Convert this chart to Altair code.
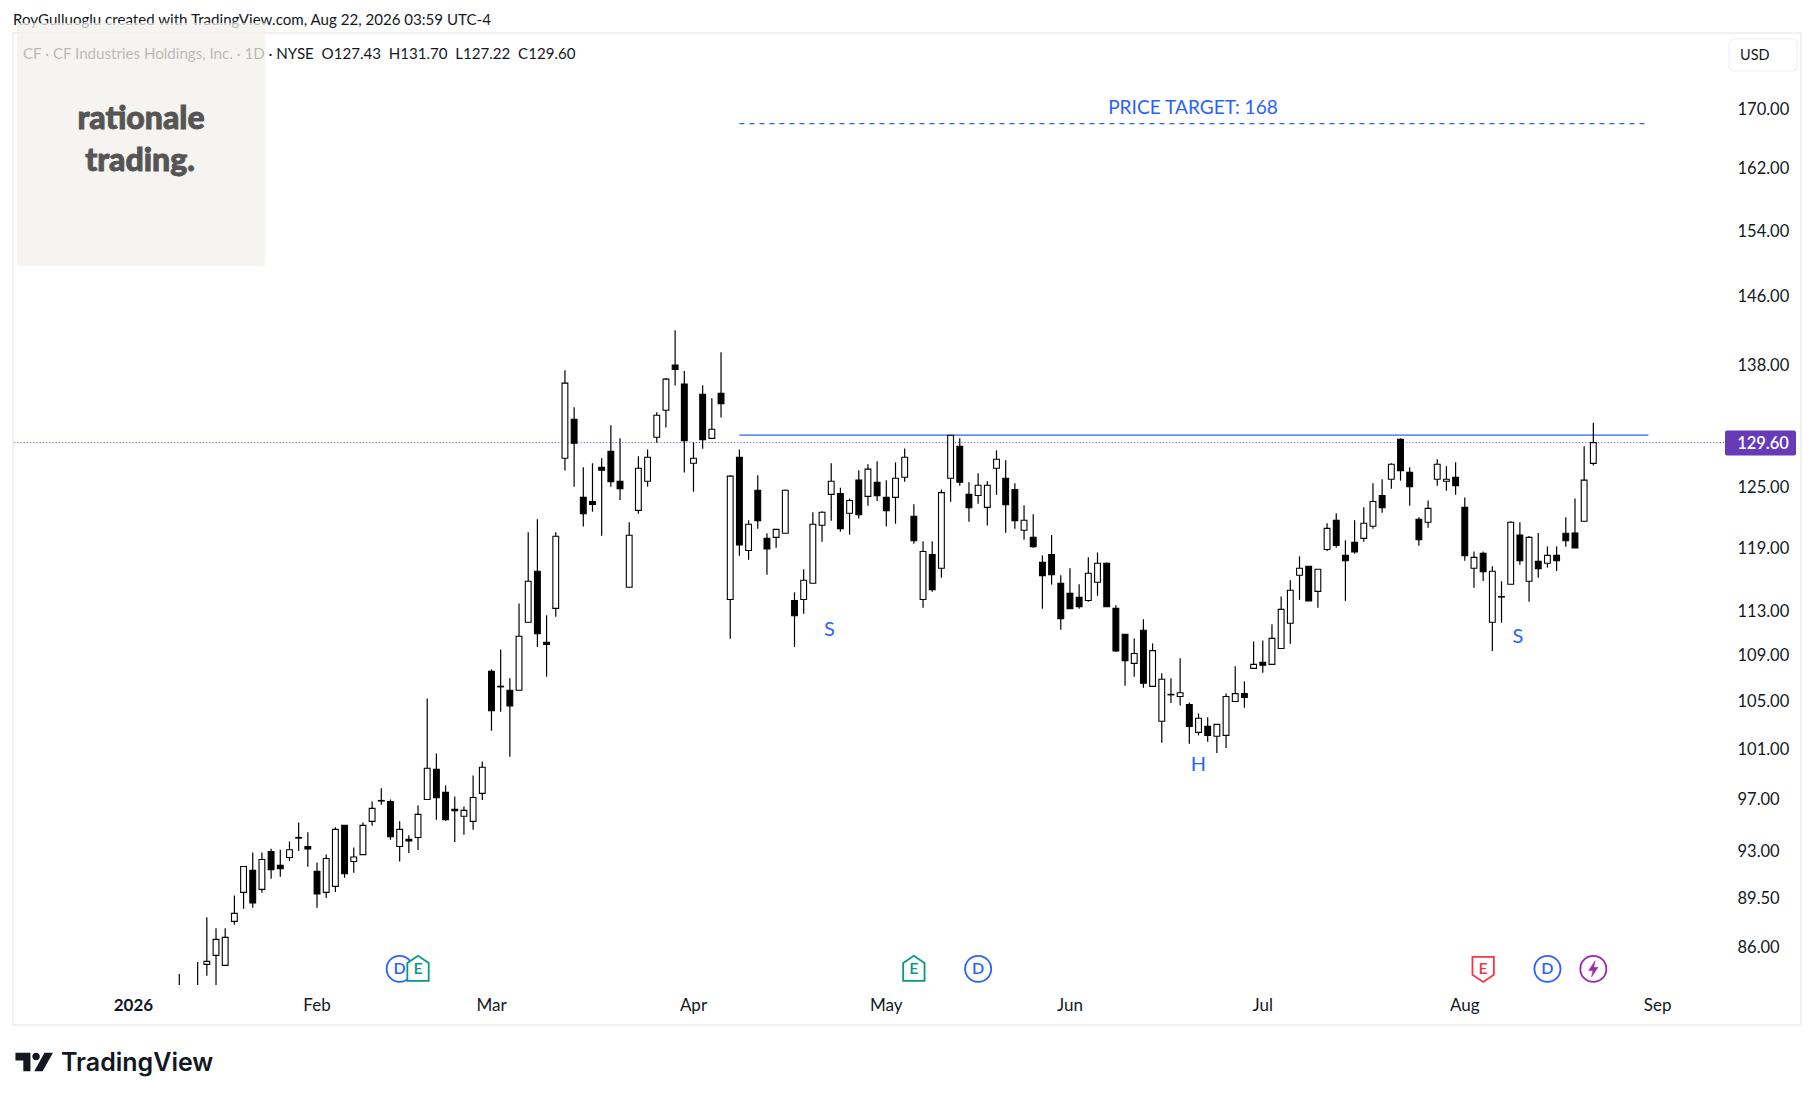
import json
import altair as alt
import pandas as pd

# Daily candles; the bar number counts trading days from the first session of 2026
first_bar = 5
highs = [84.12,83.2,84.94,88.09,87.30,87.30,89.67,91.81,92.85,92.85,
93.15,93.07,93.69,95.16,94.39,92.11,92.70,94.78,94.93,93.23,
95.16,96.79,97.83,96.95,95.24,94.16,96.48,105.25,100.64,98.07,
97.19,96.40,98.85,99.99,107.78,109.52,106.99,113.71,120.49,121.77,
112.62,120.49,137.47,133.38,127.03,127.44,127.96,131.45,130.05,121.47,
128.16,128.88,132.84,136.58,141.99,137.36,129.63,135.80,134.35,139.47,
126.21,128.88,121.67,126.21,120.39,120.77,124.74,114.74,116.91,122.46,
122.56,127.44,124.93,123.84,126.72,127.34,127.65,125.70,127.54,128.99,
123.25,119.60,119.60,124.74,130.37,130.05,125.49,126.41,125.59,128.78,
127.75,125.39,123.15,122.26,118.24,120.22,116.35,117.01,115.50,118.05,
118.52,117.57,113.53,110.89,110.52,112.25,110.07,107.43,106.99,108.74,
104.91,103.98,103.65,103.06,105.67,108.04,106.73,110.25,110.34,111.80,
114.36,115.87,118.14,117.20,116.91,121.37,122.36,119.70,121.67,122.95,
125.39,125.80,127.44,130.05,127.03,121.97,123.64,127.85,127.13,127.54,
123.95,118.62,118.62,117.20,115.78,121.57,121.47,120.12,120.42,119.10,
119.10,121.97,123.84,129.21,131.70]
opens = [83.0,83.0,82.5,84.78,85.40,84.71,87.80,89.89,91.52,90.11,
92.92,91.89,92.48,93.95,93.31,91.44,89.89,90.33,94.93,92.18,
92.70,95.24,96.83,96.79,93.31,93.85,94.00,96.95,99.36,97.51,
96.17,95.63,95.24,97.43,107.60,106.25,105.95,105.95,111.98,116.73,
110.16,113.25,127.96,132.09,123.95,123.54,127.03,128.68,125.59,115.21,
122.65,125.59,130.16,133.06,138.03,135.91,127.44,134.80,130.05,134.91,
114.08,128.06,118.71,124.67,119.89,119.99,120.39,113.98,114.08,115.59,
121.18,124.26,124.33,122.36,125.70,124.05,125.49,123.95,123.95,126.00,
122.06,114.08,118.33,117.01,125.90,129.21,124.26,124.15,122.95,126.93,
125.90,124.74,120.68,119.99,117.57,118.33,115.59,114.64,114.27,113.98,
115.68,117.48,113.25,110.89,108.30,111.25,106.29,103.32,105.56,105.42,
104.74,102.39,102.89,102.06,102.14,104.99,105.67,107.86,108.39,108.21,
109.61,111.89,116.35,117.20,114.83,118.81,121.67,118.24,119.50,119.89,
121.08,124.15,125.80,129.94,126.52,121.77,121.47,125.80,125.59,126.00,
122.95,117.01,118.43,111.98,114.30,115.50,120.22,115.78,117.67,117.48,
118.24,120.39,120.42,121.57,127.43]
closes = [82.6,82.5,83.2,84.99,86.52,86.66,88.37,91.81,89.13,92.33,
91.56,91.64,93.07,94.00,93.12,89.78,92.41,94.62,91.27,92.52,
94.93,96.25,96.87,94.05,94.62,93.74,95.78,99.44,97.08,95.37,
96.06,96.09,97.11,99.52,104.20,106.30,104.62,110.71,115.78,110.94,
109.98,120.09,136.02,129.53,122.32,123.25,126.72,125.55,124.83,120.19,
126.93,128.06,132.52,136.47,137.54,129.81,127.96,129.91,131.02,133.76,
126.11,119.26,121.27,121.63,118.87,120.77,124.67,112.58,115.87,121.27,
122.46,125.59,120.84,123.64,122.22,126.83,124.11,122.61,125.90,128.06,
119.66,118.62,114.98,124.43,130.37,125.49,122.91,125.18,125.18,127.85,
123.21,121.63,121.67,119.07,116.31,116.40,112.31,113.22,113.40,116.53,
117.48,113.40,109.40,108.53,109.17,106.56,109.43,106.91,105.60,105.74,
102.89,103.57,102.14,103.06,105.42,105.67,105.34,108.21,108.13,110.52,
113.16,114.93,117.01,113.95,116.91,120.87,119.21,117.73,118.58,121.37,
123.54,122.91,127.34,126.68,125.04,119.76,122.85,127.34,125.80,125.14,
118.20,118.05,116.69,116.73,114.34,121.47,117.73,119.99,116.97,118.24,
117.73,119.66,118.97,125.70,129.60]
lows = [82.0,81.8,81.5,84.00,82.5,84.71,87.56,88.70,88.77,89.86,
90.90,91.04,92.23,92.97,91.79,88.77,89.49,89.93,90.97,91.34,
92.70,94.90,96.53,93.82,92.18,92.82,93.04,96.95,95.37,95.29,
93.66,94.21,94.59,96.91,102.53,104.12,100.37,105.95,111.98,109.76,
107.13,112.49,126.68,125.04,121.04,122.52,120.15,125.04,123.70,115.21,
122.32,125.04,129.59,131.20,135.75,126.48,124.52,128.95,130.05,132.27,
110.49,118.20,117.82,120.84,116.40,118.97,120.39,109.76,112.76,115.59,
119.56,121.63,120.54,120.25,121.83,123.11,123.60,121.04,121.33,125.55,
119.36,113.31,114.79,116.12,123.50,125.14,121.53,123.31,121.14,124.21,
120.45,120.84,119.76,118.97,113.22,115.46,111.31,113.22,113.22,113.86,
114.42,113.40,109.31,106.35,107.13,106.17,106.29,101.52,104.87,104.66,
101.44,102.14,101.61,100.69,101.10,104.99,104.46,107.86,107.48,108.21,
109.61,110.03,114.04,113.95,113.31,118.67,118.97,113.95,118.39,119.56,
120.84,122.42,124.83,125.65,123.11,119.17,120.94,125.14,124.62,124.21,
117.73,115.17,115.81,109.40,111.94,115.50,117.35,113.86,116.12,117.07,
116.75,119.07,118.97,121.57,127.22]

price_ticks = [170, 162, 154, 146, 138, 125, 119, 113, 109, 105, 101, 97, 93, 89.5, 86]
month_bars = [0, 20, 39, 61, 82, 102, 123, 145, 166]
month_labels = ["2026", "Feb", "Mar", "Apr", "May", "Jun", "Jul", "Aug", "Sep"]
last_price = 129.60
neck_level = 130.4
target_level = 168
level_start_bar = 66
level_end_bar = 165
pattern_labels = ["S", "H", "S"]
pattern_bars = [75.8, 116.0, 150.8]
pattern_prices = [111.25, 99.7, 110.65]
event_bars = {"dividend": [29, 92, 154], "earn_up": [31, 85], "earn_down": [147], "split": [159]}
event_price = 84.47

BLUE = "#2962ff"
INK = "#131722"
FONT = "Lato"
X0, Y0 = 13, 33                 # plot origin on the page
W, H = 1711, 952

df = pd.DataFrame({"high": highs, "low": lows, "open": opens, "close": closes})
df["bar"] = range(first_bar, first_bar + len(df))
df["dir"] = ["up" if c >= o else "down" for o, c in zip(opens, closes)]

x_scale = alt.Scale(domain=[-13.11, 173.23], nice=False, zero=False, padding=0)
y_scale = alt.Scale(type="log", domain=[83.37, 180.84], nice=False, zero=False)
label_expr = f"{json.dumps(month_labels)}[indexof({json.dumps(month_bars)}, datum.value)]"
x_axis = alt.Axis(title=None, values=month_bars, labelExpr=label_expr, grid=False, domain=False, ticks=False,
                  labelFont=FONT, labelFontSize=17, labelColor=INK, labelPadding=12, labelFlush=False,
                  labelOverlap=False, labelBound=False, zindex=1, labelOffset=-0.5,
                  labelFontWeight={"condition": {"test": "datum.value == 0", "value": "bold"}, "value": "normal"})
y_axis = alt.Axis(title=None, orient="right", values=price_ticks, format=".2f", grid=False, domain=False, ticks=False,
                  labelFont=FONT, labelFontSize=16.5, labelColor=INK, labelPadding=13, labelAlign="left",
                  labelOverlap=False, labelBound=False, zindex=1, labelOffset=0.5)


def X(field="bar"):
    return alt.X(f"{field}:Q", scale=x_scale, axis=x_axis)


def Y(field):
    return alt.Y(f"{field}:Q", scale=y_scale, axis=y_axis)


def page_text(text, x, y, size=15.1, color=INK, align="left", weight="normal", font=FONT, **kw):
    return alt.Chart(pd.DataFrame({"t": [text]})).mark_text(
        align=align, baseline="alphabetic", fontSize=size, color=color, fontWeight=weight, font=font, **kw
    ).encode(text="t:N", x=alt.value(x - X0), y=alt.value(y - Y0))


def page_rect(x1, y1, x2, y2, **kw):
    return alt.Chart(pd.DataFrame({"a": [0]})).mark_rect(**kw).encode(
        x=alt.value(x1 - X0), x2=alt.value(x2 - X0), y=alt.value(y1 - Y0), y2=alt.value(y2 - Y0))


frame = page_rect(13, 33, 1801, 1025, fill="#ffffff", fillOpacity=0, stroke="#f0f0f0", strokeWidth=2)
credit = page_text("RoyGulluoglu created with TradingView.com, Aug 22, 2026 03:59 UTC-4", 13, 25)
legend_text = ("CF \u00b7 CF Industries Holdings, Inc. \u00b7 1D \u00b7 NYSE\u00a0\u00a0O127.43\u00a0\u00a0"
               "H131.70\u00a0\u00a0L127.22\u00a0\u00a0C129.60")
title = page_text(legend_text, 23, 58.5)
veil = page_rect(17, 23, 265, 266, fill="#f1f0eb", opacity=0.74)
brand1 = page_text("rationale", 141, 129, size=32, color="#555555", align="center", weight=900,
                   stroke="#555555", strokeWidth=0.9)
brand2 = page_text("trading.", 140, 171, size=32, color="#555555", align="center", weight=900,
                   stroke="#555555", strokeWidth=0.9)

wicks = alt.Chart(df).mark_rule(color="#000000", strokeWidth=1.2, clip=True).encode(
    x=X(), y=Y("high"), y2="low:Q")
bodies = alt.Chart(df).mark_bar(size=5.8, stroke="#000000", strokeWidth=1.1, clip=True).encode(
    x=X(), y=Y("open"), y2="close:Q",
    fill=alt.Fill("dir:N", scale=alt.Scale(domain=["up", "down"], range=["#ffffff", "#000000"]), legend=None))

last_line = alt.Chart(pd.DataFrame({"p": [last_price]})).mark_rule(
    color="#673ab7", strokeWidth=1, strokeDash=[1, 2.2]).encode(y=Y("p"))
levels = pd.DataFrame({"a": [level_start_bar], "b": [level_end_bar]})
neck = alt.Chart(levels.assign(p=neck_level)).mark_rule(color=BLUE, strokeWidth=1.2).encode(
    x=X("a"), x2="b:Q", y=Y("p"))
target = alt.Chart(levels.assign(p=target_level)).mark_rule(color=BLUE, strokeWidth=1.2, strokeDash=[5, 5]).encode(
    x=X("a"), x2="b:Q", y=Y("p"))
target_txt = alt.Chart(pd.DataFrame({"bar": [115.4], "p": [170.15], "t": ["PRICE TARGET: 168"]})).mark_text(
    fontSize=19.1, color=BLUE, font=FONT, baseline="middle").encode(x=X(), y=Y("p"), text="t:N")
pattern = alt.Chart(pd.DataFrame({"bar": pattern_bars, "p": pattern_prices, "t": pattern_labels})).mark_text(
    fontSize=20, color=BLUE, font=FONT, baseline="middle").encode(x=X(), y=Y("p"), text="t:N")

price_box = page_rect(1725, 430.5, 1796, 455.5, fill="#673ab7", cornerRadius=2)
price_lab = alt.Chart(pd.DataFrame({"p": [last_price], "t": [f"{last_price:.2f}"]})).mark_text(
    fontSize=16.5, color="#ffffff", font=FONT, fontWeight=600, baseline="middle", align="center", dy=1).encode(
    x=alt.value(1763 - X0), y=Y("p"), text="t:N")
usd_box = page_rect(1729, 39, 1797, 71, fill="#ffffff", stroke="#f0f0f0", strokeWidth=1.2, cornerRadius=5)
usd = page_text("USD", 1740, 59.5, size=14.5)


def events(bars, shape, stroke, letter=None):
    d = pd.DataFrame({"bar": bars, "p": [event_price] * len(bars), "t": [letter or ""] * len(bars)})
    sym = alt.Chart(d).mark_point(shape=shape, size=680, fill="#ffffff", fillOpacity=1,
                                  stroke=stroke, strokeWidth=1.8).encode(x=X(), y=Y("p"))
    if letter is None:
        return sym
    return sym + alt.Chart(d).mark_text(fontSize=16, color=stroke, font=FONT, fontWeight=600,
                                        baseline="middle").encode(x=X(), y=Y("p"), text="t:N")


HOUSE = "M-0.82,-0.45 L0,-1 L0.82,-0.45 L0.82,0.92 L-0.82,0.92 Z"
SHIELD = "M-0.82,-0.92 L0.82,-0.92 L0.82,0.45 L0,1 L-0.82,0.45 Z"
BOLT = "M0.14,-0.62 L-0.36,0.12 L-0.03,0.12 L-0.14,0.62 L0.36,-0.12 L0.03,-0.12 Z"
ev_div = events(event_bars["dividend"], "circle", BLUE, "D")
ev_up = events(event_bars["earn_up"], HOUSE, "#089981", "E")
ev_down = events(event_bars["earn_down"], SHIELD, "#f23645", "E")
ev_split = events(event_bars["split"], "circle", "#9c27b0")
ev_bolt = alt.Chart(pd.DataFrame({"bar": event_bars["split"], "p": [event_price]})).mark_point(
    shape=BOLT, size=680, fill="#9c27b0", fillOpacity=1, stroke="#9c27b0", strokeWidth=0.5).encode(x=X(), y=Y("p"))

LOGO = ("M-1,-0.5 L-0.2,-0.5 L-0.2,0.5 L-0.58,0.5 L-0.58,-0.08 L-1,-0.08 Z "
        "M-0.1,-0.3 A0.2,0.2 0 1 1 0.3,-0.3 A0.2,0.2 0 1 1 -0.1,-0.3 Z "
        "M0.55,-0.5 L1,-0.5 L0.45,0.5 L0,0.5 Z")
logo_mark = alt.Chart(pd.DataFrame({"a": [0]})).mark_point(
    shape=LOGO, size=1406, fill="#131722", fillOpacity=1, stroke="#131722", strokeWidth=0).encode(
    x=alt.value(34.2 - X0), y=alt.value(1062 - Y0))
logo_txt = page_text("TradingView", 61, 1071, size=25, weight=600, font="Inter")

chart = alt.layer(
    frame, credit, title, veil, brand1, brand2,
    last_line, neck, target, wicks, bodies, target_txt, pattern,
    ev_div, ev_up, ev_down, ev_split, ev_bolt,
    price_box, price_lab, usd_box, usd, logo_mark, logo_txt,
).properties(
    width=W, height=H, autosize="none", background="#ffffff",
    padding={"left": X0 - 8, "top": Y0 - 8, "right": 82, "bottom": 95},
).configure_view(stroke="transparent")

chart.save("out.html", embed_options={"renderer": "svg", "actions": False})
